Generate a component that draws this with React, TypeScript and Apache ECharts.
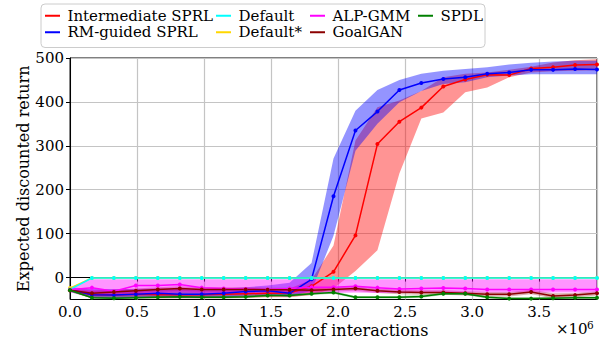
import React, { useEffect, useRef } from "react";
import * as echarts from "echarts";

// x positions (interactions), one point every 163840 interactions
const xs: number[] = Array.from({ length: 25 }, (_, i) => i * 163840);

const yTickValues = [0, 100, 200, 300, 400, 500];

const interMean = [-29, -39, -40, -38, -39, -39, -39, -38, -37, -36, -35, -20, 13, 96, 304, 355, 387, 435, 451, 462, 461, 476, 479, 484, 485];
const interUpper = [-24, -28, -28, -28, -28, -28, -29, -28, -27, -26, -25, -5, 73, 312, 388, 403, 425, 456, 464, 467, 473, 480, 490, 495, 497];
const interLower = [-33, -47, -48, -47, -47, -47, -47, -47, -46, -45, -45, -40, -25, 15, 62, 237, 362, 376, 422, 433, 456, 467, 470, 471, 472];

const rmMean = [-28, -39, -40, -38, -36, -38, -38, -36, -32, -30, -36, -4, 185, 335, 378, 427, 443, 452, 456, 464, 467, 473, 473, 475, 474];
const rmUpper = [-22, -26, -26, -26, -25, -26, -27, -25, -22, -18, -12, 33, 271, 380, 427, 450, 464, 471, 475, 479, 485, 489, 492, 494, 494];
const rmLower = [-33, -46, -47, -46, -45, -46, -46, -45, -42, -40, -44, -30, 95, 289, 350, 399, 425, 441, 445, 456, 460, 463, 463, 463, 463];

const defMean = [-27, -1, -1, -1, -1, -1, -1, -1, -1, -1, -1, -1, -1, -1, -1, -1, -1, -1, -1, -1, -1, -1, -1, -1, -1];
const defStarMean = [-24, -1, -1, -1, -1, -1, -1, -1, -1, -1, -1, -1, -1, -1, -1, -1, -1, -1, -1, -1, -1, -1, -1, -1, -1];

const alpMean = [-28, -23, -31, -18, -18, -16, -23, -25, -26, -27, -25, -22, -22, -20, -23, -26, -25, -24, -25, -27, -27, -27, -27, -27, -27];
const alpUpper = [-22, -4, -4, -4, -4, -4, -4, -4, -4, -4, -4, -4, -4, -4, -4, -4, -4, -4, -4, -4, -4, -4, -4, -4, -4];
const alpLower = [-33, -40, -42, -38, -36, -34, -36, -37, -37, -37, -36, -35, -35, -34, -35, -35, -34, -34, -34, -34, -34, -34, -34, -34, -34];

const ganMean = [-29, -36, -33, -30, -27, -25, -27, -27, -27, -28, -28, -29, -27, -25, -30, -33, -34, -34, -36, -38, -38, -33, -42, -40, -36];
const ganUpper = [-26, -31, -28, -25, -22, -20, -22, -22, -22, -23, -23, -24, -22, -20, -25, -28, -29, -29, -31, -33, -33, -28, -36, -35, -31];
const ganLower = [-32, -41, -38, -35, -32, -30, -32, -32, -32, -33, -33, -34, -32, -30, -35, -38, -39, -39, -41, -43, -43, -38, -47, -45, -41];

const spdlMean = [-29, -46, -47, -46, -45, -44, -45, -45, -44, -41, -41, -37, -34, -45, -45, -45, -43, -37, -37, -45, -48, -48, -47, -46, -46];
const spdlUpper = [-27, -43, -44, -43, -42, -41, -42, -42, -41, -38, -38, -34, -31, -42, -42, -42, -40, -34, -34, -42, -45, -45, -44, -43, -43];
const spdlLower = [-31, -48, -49, -48, -48, -47, -48, -48, -47, -44, -44, -40, -37, -48, -48, -48, -46, -40, -40, -48, -49, -49, -49, -49, -49];

const FONT = "'DejaVu Serif', serif";

function band(id: string, lower: number[], upper: number[], fill: string) {
  return {
    type: "custom",
    id,
    name: id,
    silent: true,
    z: 1,
    data: xs.map((x, i) => [x, lower[i], upper[i]]),
    encode: { x: 0, y: [1, 2] },
    renderItem: (params: any, api: any) => {
      if (params.dataIndex !== 0) return null;
      const pts: number[][] = [];
      for (let i = 0; i < xs.length; i++) pts.push(api.coord([xs[i], upper[i]]));
      for (let i = xs.length - 1; i >= 0; i--) pts.push(api.coord([xs[i], lower[i]]));
      return { type: "polygon", shape: { points: pts }, style: { fill, stroke: "none" } };
    },
  };
}

function line(name: string, data: number[], color: string) {
  return {
    type: "line",
    name,
    data: xs.map((x, i) => [x, data[i]]),
    color,
    symbol: "circle",
    symbolSize: 4,
    showSymbol: true,
    lineStyle: { width: 1.5, color },
    itemStyle: { color },
    z: 3,
  };
}

const legendCols = [
  { left: 45, names: ["Intermediate SPRL", "RM-guided SPRL"] },
  { left: 216, names: ["Default", "Default*"] },
  { left: 310, names: ["ALP-GMM", "GoalGAN"] },
  { left: 418, names: ["SPDL"] },
];

export default function App() {
  const ref = useRef<HTMLDivElement>(null);
  useEffect(() => {
    if (!ref.current) return;
    const chart = echarts.init(ref.current, undefined, { renderer: "svg" });
    chart.setOption({
      animation: false,
      textStyle: { fontFamily: FONT },
      grid: { left: 70, right: 11, top: 58, bottom: 43.5, show: true, borderColor: "#000", borderWidth: 1, containLabel: false, outerBoundsMode: "none" },
      graphic: [
        { type: "rect", z: 0, shape: { x: 41, y: 4, width: 444, height: 43.5, r: 4 }, style: { fill: "rgba(255,255,255,0.8)", stroke: "#cccccc", lineWidth: 1 } },
        { type: "text", x: 556, y: 336, style: { text: "×10", fontFamily: FONT, fontSize: 15, fill: "#000", textVerticalAlign: "bottom", verticalAlign: "bottom" } },
        { type: "text", x: 587, y: 319, style: { text: "6", fontFamily: FONT, fontSize: 10.5, fill: "#000", textVerticalAlign: "top", verticalAlign: "top" } },
      ],
      legend: legendCols.map((c) => ({
        left: c.left,
        top: 7.5,
        orient: "vertical",
        data: c.names,
        icon: "rect",
        itemWidth: 15,
        itemHeight: 2,
        itemGap: 0,
        padding: 0,
        selectedMode: false,
        textStyle: { fontFamily: FONT, fontSize: 15, color: "#000", lineHeight: 16.5, padding: [0, 0, 0, 2.5] },
      })),
      xAxis: {
        type: "value",
        min: 0,
        max: xs[xs.length - 1],
        interval: 500000,
        name: "Number of interactions",
        nameLocation: "middle",
        nameGap: 23,
        nameMoveOverlap: false,
        nameTextStyle: { fontFamily: FONT, fontSize: 16, color: "#000" },
        axisLine: { lineStyle: { color: "#000", width: 1 } },
        axisTick: { length: 4, lineStyle: { color: "#000" } },
        axisLabel: { fontFamily: FONT, fontSize: 15, color: "#000", margin: 5, showMaxLabel: false, formatter: (v: number) => (v / 1e6).toFixed(1) },
        splitLine: { show: true, lineStyle: { color: "#c4c4c4", width: 1.2 } },
      },
      yAxis: {
        type: "value",
        min: -50,
        max: 500,
        interval: 50,
        name: "Expected discounted return",
        nameLocation: "middle",
        nameGap: 39,
        nameMoveOverlap: false,
        nameTextStyle: { fontFamily: FONT, fontSize: 16, color: "#000" },
        axisLine: { show: true, lineStyle: { color: "#000", width: 1 } },
        axisTick: { show: true, length: 4, lineStyle: { color: "#000" }, customValues: yTickValues },
        axisLabel: { fontFamily: FONT, fontSize: 15, color: "#000", margin: 6, customValues: yTickValues },
        splitLine: { show: true, lineStyle: { color: "#c4c4c4", width: 1.2 } },
      },
      series: [
        band("band-inter", interLower, interUpper, "rgba(255,0,0,0.42)"),
        band("band-rm", rmLower, rmUpper, "rgba(0,0,255,0.42)"),
        band("band-gan", ganLower, ganUpper, "rgba(139,0,0,0.3)"),
        band("band-spdl", spdlLower, spdlUpper, "rgba(0,128,0,0.3)"),
        band("band-alp", alpLower, alpUpper, "rgba(255,0,255,0.42)"),
        line("Intermediate SPRL", interMean, "#ff0000"),
        line("RM-guided SPRL", rmMean, "#0000ff"),
        line("Default*", defStarMean, "#ffd700"),
        line("Default", defMean, "#00ffff"),
        line("ALP-GMM", alpMean, "#ff00ff"),
        line("GoalGAN", ganMean, "#8b0000"),
        line("SPDL", spdlMean, "#008000"),
      ],
    });
    return () => chart.dispose();
  }, []);
  return <div ref={ref} style={{ width: 608, height: 343, position: "absolute", left: 0, top: 0 }} />;
}
